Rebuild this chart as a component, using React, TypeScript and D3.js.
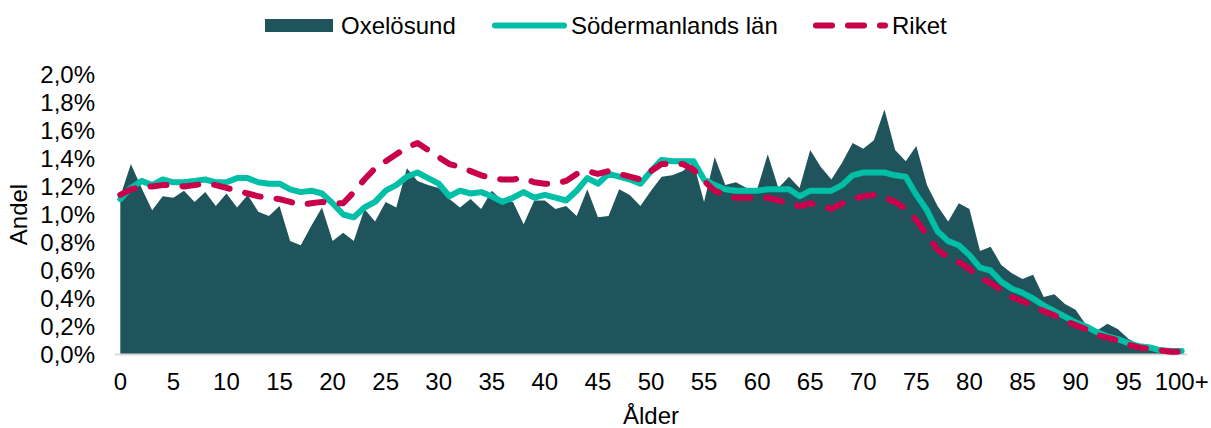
import React from "react";
import * as d3 from "d3";

const ages: string[] = Array.from({ length: 101 }, (_, i) => (i === 100 ? "100+" : String(i)));

const oxelosund: number[] = [
  1.13, 1.36, 1.19, 1.03, 1.13, 1.12, 1.17, 1.09, 1.16, 1.06,
  1.15, 1.05, 1.14, 1.02, 0.99, 1.06, 0.81, 0.78, 0.92, 1.05,
  0.81, 0.87, 0.81, 1.04, 0.95, 1.09, 1.05, 1.33, 1.24, 1.21,
  1.19, 1.11, 1.05, 1.11, 1.04, 1.17, 1.10, 1.09, 0.93, 1.10,
  1.10, 1.04, 1.06, 0.99, 1.18, 0.98, 0.99, 1.18, 1.14, 1.06,
  1.17, 1.27, 1.28, 1.31, 1.37, 1.09, 1.41, 1.21, 1.23, 1.19,
  1.18, 1.43, 1.19, 1.27, 1.19, 1.46, 1.34, 1.25, 1.37, 1.51,
  1.47, 1.53, 1.75, 1.46, 1.38, 1.49, 1.21, 1.06, 0.95, 1.08,
  1.04, 0.74, 0.77, 0.64, 0.58, 0.54, 0.57, 0.41, 0.43, 0.36,
  0.32, 0.21, 0.17, 0.22, 0.18, 0.11, 0.07, 0.05, 0.04, 0.02,
  0.01,
];

const sodermanland: number[] = [
  1.11, 1.19, 1.24, 1.21, 1.25, 1.23, 1.23, 1.24, 1.25, 1.23,
  1.23, 1.26, 1.26, 1.23, 1.22, 1.22, 1.18, 1.16, 1.17, 1.15,
  1.08, 1.00, 0.98, 1.05, 1.09, 1.17, 1.21, 1.27, 1.30, 1.26,
  1.22, 1.13, 1.17, 1.15, 1.16, 1.13, 1.09, 1.12, 1.16, 1.12,
  1.14, 1.12, 1.10, 1.17, 1.26, 1.22, 1.29, 1.27, 1.25, 1.22,
  1.31, 1.39, 1.38, 1.38, 1.38, 1.25, 1.21, 1.18, 1.17, 1.17,
  1.17, 1.18, 1.18, 1.18, 1.13, 1.17, 1.17, 1.17, 1.21, 1.28,
  1.30, 1.30, 1.30, 1.28, 1.27, 1.14, 1.03, 0.88, 0.81, 0.78,
  0.71, 0.62, 0.60, 0.52, 0.47, 0.44, 0.40, 0.35, 0.31, 0.27,
  0.23, 0.20, 0.16, 0.13, 0.11, 0.08, 0.06, 0.05, 0.03, 0.025,
  0.025,
];

const riket: number[] = [
  1.14, 1.18, 1.20, 1.20, 1.21, 1.21, 1.20, 1.21, 1.22, 1.21,
  1.19, 1.17, 1.15, 1.13, 1.12, 1.11, 1.09, 1.07, 1.08, 1.09,
  1.08, 1.08, 1.16, 1.25, 1.33, 1.38, 1.43, 1.48, 1.51, 1.46,
  1.41, 1.36, 1.34, 1.31, 1.28, 1.26, 1.25, 1.25, 1.26, 1.23,
  1.22, 1.22, 1.24, 1.29, 1.31, 1.29, 1.31, 1.29, 1.27, 1.25,
  1.31, 1.36, 1.36, 1.36, 1.32, 1.24, 1.17, 1.14, 1.12, 1.12,
  1.12, 1.12, 1.10, 1.08, 1.06, 1.08, 1.06, 1.04, 1.08, 1.11,
  1.13, 1.14, 1.12, 1.09, 1.04, 0.96, 0.85, 0.75, 0.69, 0.66,
  0.61, 0.55, 0.51, 0.46, 0.41, 0.38, 0.35, 0.31, 0.28, 0.24,
  0.21, 0.18, 0.14, 0.12, 0.10, 0.07, 0.05, 0.04, 0.03, 0.02,
  0.02,
];

const yTicks: number[] = [0, 0.2, 0.4, 0.6, 0.8, 1.0, 1.2, 1.4, 1.6, 1.8, 2.0];
const xTickLabels: string[] = ["0", "5", "10", "15", "20", "25", "30", "35", "40", "45", "50", "55", "60", "65", "70", "75", "80", "85", "90", "95", "100+"];
const seriesNames: string[] = ["Oxelösund", "Södermanlands län", "Riket"];

const AREA_COLOR = "#20545C";
const TEAL = "#00BFA6";
const RED = "#C9004A";
const FONT = "Liberation Sans, Arial, sans-serif";

export default function App() {
  const W = 1211;
  const H = 428;
  const x = d3.scalePoint<string>().domain(ages).range([115, 1187]).padding(0.5);
  const y = d3.scaleLinear().domain([0, 2.0]).range([354.5, 74.5]);

  const area = d3
    .area<number>()
    .x((_, i) => x(ages[i]) as number)
    .y0(y(0))
    .y1((d) => y(d));
  const line = d3
    .line<number>()
    .x((_, i) => x(ages[i]) as number)
    .y((d) => y(d));

  const fmt = (v: number) => v.toFixed(1).replace(".", ",") + "%";

  return (
    <svg width={W} height={H} style={{ position: "absolute", left: 0, top: 0, background: "#fff" }} fontFamily={FONT}>
      {/* legend */}
      <g fontSize={24} fill="#000">
        <rect x={265} y={19} width={68} height={13} fill={AREA_COLOR} />
        <text x={341} y={34}>{seriesNames[0]}</text>
        <line x1={495} x2={564} y1={25.5} y2={25.5} stroke={TEAL} strokeWidth={6} strokeLinecap="round" />
        <text x={571} y={34}>{seriesNames[1]}</text>
        <line x1={816} x2={885} y1={25.5} y2={25.5} stroke={RED} strokeWidth={6} strokeLinecap="round" strokeDasharray="16,16" />
        <text x={892} y={34}>{seriesNames[2]}</text>
      </g>

      {/* area */}
      <path d={area(oxelosund) as string} fill={AREA_COLOR} />

      {/* x axis line */}
      <line x1={115} x2={1187} y1={354.5} y2={354.5} stroke="#D9D9D9" strokeWidth={2} />

      {/* lines */}
      <path d={line(sodermanland) as string} fill="none" stroke={TEAL} strokeWidth={6} strokeLinejoin="round" strokeLinecap="round" />
      <path d={line(riket) as string} fill="none" stroke={RED} strokeWidth={6} strokeLinejoin="round" strokeLinecap="round" strokeDasharray="16,16" />

      {/* y ticks */}
      <g fontSize={24} fill="#000" textAnchor="end">
        {yTicks.map((t) => (
          <text key={t} x={95} y={y(t) + 8.5}>{fmt(t)}</text>
        ))}
      </g>

      {/* x ticks */}
      <g fontSize={24} fill="#000" textAnchor="middle">
        {xTickLabels.map((t) => (
          <text key={t} x={x(t) as number} y={390}>{t}</text>
        ))}
      </g>

      {/* axis titles */}
      <text x={651} y={424} fontSize={24} textAnchor="middle" fill="#000">Ålder</text>
      <text transform={`translate(27,${(y(0) + y(2)) / 2}) rotate(-90)`} fontSize={24} textAnchor="middle" fill="#000">Andel</text>
    </svg>
  );
}
